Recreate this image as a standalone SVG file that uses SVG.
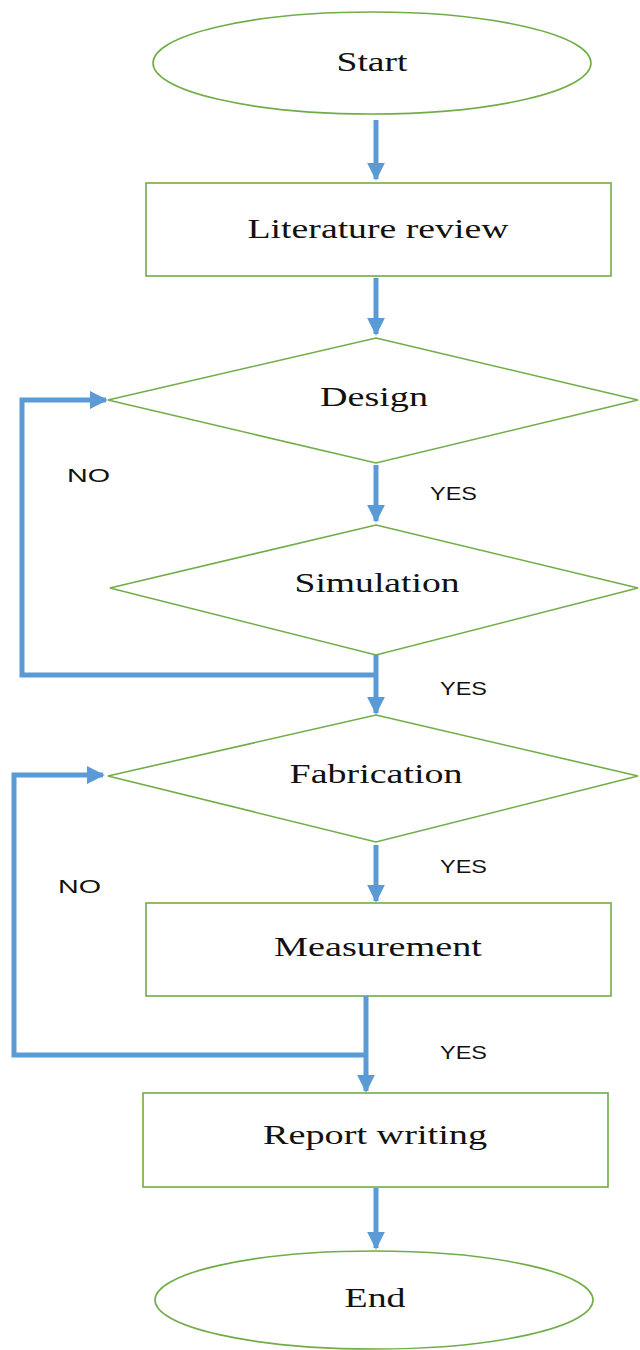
<svg xmlns="http://www.w3.org/2000/svg" width="640" height="1350" viewBox="0 0 640 1350">
<defs>
<style>
.node{fill:#fff;stroke:#70AD47;stroke-width:1.6}
.lbl{font-family:"Liberation Serif","Times New Roman",serif;font-size:27px;fill:#111;text-anchor:middle}
.yn{font-family:"Liberation Sans",Arial,sans-serif;font-size:19px;fill:#111}
.conn{fill:none;stroke:#5B9BD5;stroke-width:5;stroke-linejoin:miter}
</style>
<marker id="ah" viewBox="0 0 10 10" refX="9" refY="5" markerWidth="3.6" markerHeight="3.6" orient="auto" markerUnits="strokeWidth">
<path d="M0,0 L10,5 L0,10 Z" fill="#5B9BD5"/>
</marker>
</defs>
<rect width="640" height="1350" fill="#fff"/>
<g id="start"><ellipse class="node" cx="372" cy="63" rx="219" ry="51"/><text class="lbl" x="372" y="71" textLength="71" lengthAdjust="spacingAndGlyphs">Start</text></g>
<g id="literature"><rect class="node" x="146" y="183" width="465" height="93"/><text class="lbl" x="378" y="238" textLength="261" lengthAdjust="spacingAndGlyphs">Literature review</text></g>
<g id="design"><polygon class="node" points="376,338 638,400 376,463 108,400"/><text class="lbl" x="374" y="406" textLength="108" lengthAdjust="spacingAndGlyphs">Design</text></g>
<g id="simulation"><polygon class="node" points="376,525 638,588 376,655 110,588"/><text class="lbl" x="377" y="592" textLength="165" lengthAdjust="spacingAndGlyphs">Simulation</text></g>
<g id="fabrication"><polygon class="node" points="376,715 638,776 376,842 108,776"/><text class="lbl" x="376" y="783" textLength="173" lengthAdjust="spacingAndGlyphs">Fabrication</text></g>
<g id="measurement"><rect class="node" x="146" y="903" width="465" height="93"/><text class="lbl" x="378" y="956" textLength="208" lengthAdjust="spacingAndGlyphs">Measurement</text></g>
<g id="report"><rect class="node" x="143" y="1093" width="465" height="94"/><text class="lbl" x="375" y="1144" textLength="224" lengthAdjust="spacingAndGlyphs">Report writing</text></g>
<g id="end"><ellipse class="node" cx="374" cy="1300" rx="219" ry="49"/><text class="lbl" x="375" y="1307" textLength="61" lengthAdjust="spacingAndGlyphs">End</text></g>
<g id="connectors">
<path class="conn" d="M376,120 V179" marker-end="url(#ah)"/>
<path class="conn" d="M376,278 V334" marker-end="url(#ah)"/>
<path class="conn" d="M376,465 V521" marker-end="url(#ah)"/>
<path class="conn" d="M376,655 V713" marker-end="url(#ah)"/>
<path class="conn" d="M376,675 H22 V400 H106" marker-end="url(#ah)"/>
<path class="conn" d="M376,845 V901" marker-end="url(#ah)"/>
<path class="conn" d="M366,996 V1091" marker-end="url(#ah)"/>
<path class="conn" d="M366,1055 H14 V775 H103" marker-end="url(#ah)"/>
<path class="conn" d="M376,1188 V1248" marker-end="url(#ah)"/>
</g>
<g id="labels">
<text class="yn" x="67" y="482" textLength="43" lengthAdjust="spacingAndGlyphs">NO</text>
<text class="yn" x="430" y="500" textLength="47" lengthAdjust="spacingAndGlyphs">YES</text>
<text class="yn" x="440" y="695" textLength="47" lengthAdjust="spacingAndGlyphs">YES</text>
<text class="yn" x="58" y="893" textLength="43" lengthAdjust="spacingAndGlyphs">NO</text>
<text class="yn" x="440" y="873" textLength="47" lengthAdjust="spacingAndGlyphs">YES</text>
<text class="yn" x="440" y="1059" textLength="47" lengthAdjust="spacingAndGlyphs">YES</text>
</g>
</svg>
